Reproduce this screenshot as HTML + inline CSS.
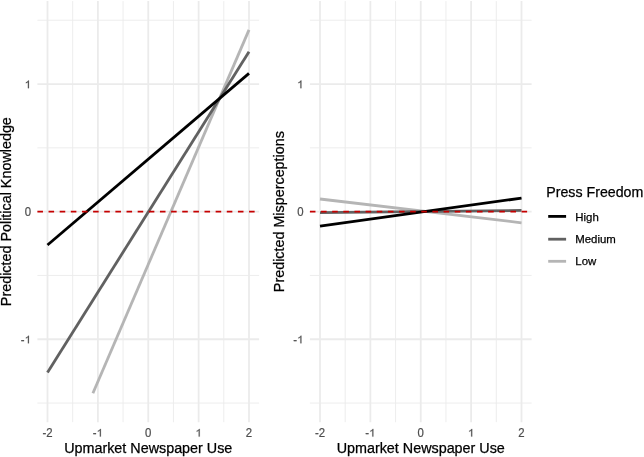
<!DOCTYPE html>
<html><head><meta charset="utf-8"><style>
html,body{margin:0;padding:0;background:#fff;}
body{width:644px;height:457px;overflow:hidden;font-family:"Liberation Sans", sans-serif;}
svg{display:block;will-change:transform;}
</style></head><body>
<svg width="644" height="457" viewBox="0 0 644 457" font-family='"Liberation Sans", sans-serif'>
<rect width="644" height="457" fill="#fff"/>
<line x1="37.4" x2="259.1" y1="20.25" y2="20.25" stroke="#EBEBEB" stroke-width="0.9"/>
<line x1="37.4" x2="259.1" y1="147.85" y2="147.85" stroke="#EBEBEB" stroke-width="0.9"/>
<line x1="37.4" x2="259.1" y1="275.45" y2="275.45" stroke="#EBEBEB" stroke-width="0.9"/>
<line x1="37.4" x2="259.1" y1="403.05" y2="403.05" stroke="#EBEBEB" stroke-width="0.9"/>
<line y1="1.1" y2="422.2" x1="72.69" x2="72.69" stroke="#EBEBEB" stroke-width="0.9"/>
<line y1="1.1" y2="422.2" x1="123.06" x2="123.06" stroke="#EBEBEB" stroke-width="0.9"/>
<line y1="1.1" y2="422.2" x1="173.44" x2="173.44" stroke="#EBEBEB" stroke-width="0.9"/>
<line y1="1.1" y2="422.2" x1="223.81" x2="223.81" stroke="#EBEBEB" stroke-width="0.9"/>
<line x1="37.4" x2="259.1" y1="84.05" y2="84.05" stroke="#EBEBEB" stroke-width="1.8"/>
<line x1="37.4" x2="259.1" y1="211.65" y2="211.65" stroke="#EBEBEB" stroke-width="1.8"/>
<line x1="37.4" x2="259.1" y1="339.25" y2="339.25" stroke="#EBEBEB" stroke-width="1.8"/>
<line y1="1.1" y2="422.2" x1="47.50" x2="47.50" stroke="#EBEBEB" stroke-width="1.8"/>
<line y1="1.1" y2="422.2" x1="97.88" x2="97.88" stroke="#EBEBEB" stroke-width="1.8"/>
<line y1="1.1" y2="422.2" x1="148.25" x2="148.25" stroke="#EBEBEB" stroke-width="1.8"/>
<line y1="1.1" y2="422.2" x1="198.62" x2="198.62" stroke="#EBEBEB" stroke-width="1.8"/>
<line y1="1.1" y2="422.2" x1="249.00" x2="249.00" stroke="#EBEBEB" stroke-width="1.8"/>
<line x1="309.9" x2="531.6" y1="20.25" y2="20.25" stroke="#EBEBEB" stroke-width="0.9"/>
<line x1="309.9" x2="531.6" y1="147.85" y2="147.85" stroke="#EBEBEB" stroke-width="0.9"/>
<line x1="309.9" x2="531.6" y1="275.45" y2="275.45" stroke="#EBEBEB" stroke-width="0.9"/>
<line x1="309.9" x2="531.6" y1="403.05" y2="403.05" stroke="#EBEBEB" stroke-width="0.9"/>
<line y1="1.1" y2="422.2" x1="345.19" x2="345.19" stroke="#EBEBEB" stroke-width="0.9"/>
<line y1="1.1" y2="422.2" x1="395.56" x2="395.56" stroke="#EBEBEB" stroke-width="0.9"/>
<line y1="1.1" y2="422.2" x1="445.94" x2="445.94" stroke="#EBEBEB" stroke-width="0.9"/>
<line y1="1.1" y2="422.2" x1="496.31" x2="496.31" stroke="#EBEBEB" stroke-width="0.9"/>
<line x1="309.9" x2="531.6" y1="84.05" y2="84.05" stroke="#EBEBEB" stroke-width="1.8"/>
<line x1="309.9" x2="531.6" y1="211.65" y2="211.65" stroke="#EBEBEB" stroke-width="1.8"/>
<line x1="309.9" x2="531.6" y1="339.25" y2="339.25" stroke="#EBEBEB" stroke-width="1.8"/>
<line y1="1.1" y2="422.2" x1="320.00" x2="320.00" stroke="#EBEBEB" stroke-width="1.8"/>
<line y1="1.1" y2="422.2" x1="370.38" x2="370.38" stroke="#EBEBEB" stroke-width="1.8"/>
<line y1="1.1" y2="422.2" x1="420.75" x2="420.75" stroke="#EBEBEB" stroke-width="1.8"/>
<line y1="1.1" y2="422.2" x1="471.12" x2="471.12" stroke="#EBEBEB" stroke-width="1.8"/>
<line y1="1.1" y2="422.2" x1="521.50" x2="521.50" stroke="#EBEBEB" stroke-width="1.8"/>
<line x1="92.89" y1="393.30" x2="249.00" y2="29.90" stroke="#B5B5B5" stroke-width="2.8" stroke-linecap="butt"/>
<line x1="47.50" y1="372.40" x2="249.00" y2="51.80" stroke="#616161" stroke-width="2.8" stroke-linecap="butt"/>
<line x1="47.50" y1="245.00" x2="249.00" y2="73.40" stroke="#000000" stroke-width="2.8" stroke-linecap="butt"/>
<line x1="320.00" y1="199.00" x2="521.50" y2="222.80" stroke="#B5B5B5" stroke-width="2.8" stroke-linecap="butt"/>
<line x1="320.00" y1="212.60" x2="521.50" y2="210.40" stroke="#616161" stroke-width="2.8" stroke-linecap="butt"/>
<line x1="320.00" y1="226.10" x2="521.50" y2="198.10" stroke="#000000" stroke-width="2.8" stroke-linecap="butt"/>
<line x1="37.4" x2="259.1" y1="211.65" y2="211.65" stroke="#C60000" stroke-width="1.7" stroke-dasharray="5.57 5.57"/>
<line x1="309.9" x2="531.6" y1="211.65" y2="211.65" stroke="#C60000" stroke-width="1.7" stroke-dasharray="5.57 5.57"/>
<path d="M763 0H583V1147Q518 1085 412.5 1023Q307 961 223 930V1104Q374 1175 487 1276Q600 1377 647 1472H763Z" fill="#4D4D4D" stroke="#4D4D4D" stroke-width="35.93" transform="translate(24.66,88.15) scale(0.005566,-0.005232)"/>
<g transform="translate(0,215.75) scale(1,1.1) translate(0,-215.75)"><text x="24.66" y="215.75" font-size="11.4" fill="#4D4D4D" stroke="#4D4D4D" stroke-width="0.2">0</text></g>
<g transform="translate(0,343.35) scale(1,1.1) translate(0,-343.35)"><text x="20.86" y="344.05" font-size="11.4" fill="#4D4D4D" stroke="#4D4D4D" stroke-width="0.2">-</text></g><path d="M763 0H583V1147Q518 1085 412.5 1023Q307 961 223 930V1104Q374 1175 487 1276Q600 1377 647 1472H763Z" fill="#4D4D4D" stroke="#4D4D4D" stroke-width="35.93" transform="translate(24.66,343.35) scale(0.005566,-0.005232)"/>
<path d="M763 0H583V1147Q518 1085 412.5 1023Q307 961 223 930V1104Q374 1175 487 1276Q600 1377 647 1472H763Z" fill="#4D4D4D" stroke="#4D4D4D" stroke-width="35.93" transform="translate(297.16,88.15) scale(0.005566,-0.005232)"/>
<g transform="translate(0,215.75) scale(1,1.1) translate(0,-215.75)"><text x="297.16" y="215.75" font-size="11.4" fill="#4D4D4D" stroke="#4D4D4D" stroke-width="0.2">0</text></g>
<g transform="translate(0,343.35) scale(1,1.1) translate(0,-343.35)"><text x="293.36" y="344.05" font-size="11.4" fill="#4D4D4D" stroke="#4D4D4D" stroke-width="0.2">-</text></g><path d="M763 0H583V1147Q518 1085 412.5 1023Q307 961 223 930V1104Q374 1175 487 1276Q600 1377 647 1472H763Z" fill="#4D4D4D" stroke="#4D4D4D" stroke-width="35.93" transform="translate(297.16,343.35) scale(0.005566,-0.005232)"/>
<g transform="translate(0,436.60) scale(1,1.1) translate(0,-436.60)"><text x="42.43" y="436.60" font-size="11.4" fill="#4D4D4D" stroke="#4D4D4D" stroke-width="0.2">-</text></g><g transform="translate(0,436.60) scale(1,1.1) translate(0,-436.60)"><text x="46.23" y="436.60" font-size="11.4" fill="#4D4D4D" stroke="#4D4D4D" stroke-width="0.2">2</text></g>
<g transform="translate(0,436.60) scale(1,1.1) translate(0,-436.60)"><text x="92.81" y="436.60" font-size="11.4" fill="#4D4D4D" stroke="#4D4D4D" stroke-width="0.2">-</text></g><path d="M763 0H583V1147Q518 1085 412.5 1023Q307 961 223 930V1104Q374 1175 487 1276Q600 1377 647 1472H763Z" fill="#4D4D4D" stroke="#4D4D4D" stroke-width="35.93" transform="translate(96.60,436.60) scale(0.005566,-0.005232)"/>
<g transform="translate(0,436.60) scale(1,1.1) translate(0,-436.60)"><text x="145.08" y="436.60" font-size="11.4" fill="#4D4D4D" stroke="#4D4D4D" stroke-width="0.2">0</text></g>
<path d="M763 0H583V1147Q518 1085 412.5 1023Q307 961 223 930V1104Q374 1175 487 1276Q600 1377 647 1472H763Z" fill="#4D4D4D" stroke="#4D4D4D" stroke-width="35.93" transform="translate(195.45,436.60) scale(0.005566,-0.005232)"/>
<g transform="translate(0,436.60) scale(1,1.1) translate(0,-436.60)"><text x="245.83" y="436.60" font-size="11.4" fill="#4D4D4D" stroke="#4D4D4D" stroke-width="0.2">2</text></g>
<g transform="translate(0,436.60) scale(1,1.1) translate(0,-436.60)"><text x="314.93" y="436.60" font-size="11.4" fill="#4D4D4D" stroke="#4D4D4D" stroke-width="0.2">-</text></g><g transform="translate(0,436.60) scale(1,1.1) translate(0,-436.60)"><text x="318.73" y="436.60" font-size="11.4" fill="#4D4D4D" stroke="#4D4D4D" stroke-width="0.2">2</text></g>
<g transform="translate(0,436.60) scale(1,1.1) translate(0,-436.60)"><text x="365.31" y="436.60" font-size="11.4" fill="#4D4D4D" stroke="#4D4D4D" stroke-width="0.2">-</text></g><path d="M763 0H583V1147Q518 1085 412.5 1023Q307 961 223 930V1104Q374 1175 487 1276Q600 1377 647 1472H763Z" fill="#4D4D4D" stroke="#4D4D4D" stroke-width="35.93" transform="translate(369.10,436.60) scale(0.005566,-0.005232)"/>
<g transform="translate(0,436.60) scale(1,1.1) translate(0,-436.60)"><text x="417.58" y="436.60" font-size="11.4" fill="#4D4D4D" stroke="#4D4D4D" stroke-width="0.2">0</text></g>
<path d="M763 0H583V1147Q518 1085 412.5 1023Q307 961 223 930V1104Q374 1175 487 1276Q600 1377 647 1472H763Z" fill="#4D4D4D" stroke="#4D4D4D" stroke-width="35.93" transform="translate(467.95,436.60) scale(0.005566,-0.005232)"/>
<g transform="translate(0,436.60) scale(1,1.1) translate(0,-436.60)"><text x="518.33" y="436.60" font-size="11.4" fill="#4D4D4D" stroke="#4D4D4D" stroke-width="0.2">2</text></g>
<text x="148.25" y="453.4" text-anchor="middle" font-size="14.35" fill="#000" stroke="#000" stroke-width="0.25">Upmarket Newspaper Use</text>
<text x="420.75" y="453.4" text-anchor="middle" font-size="14.35" fill="#000" stroke="#000" stroke-width="0.25">Upmarket Newspaper Use</text>
<text transform="translate(11,211.65) rotate(-90)" text-anchor="middle" font-size="14.35" fill="#000" stroke="#000" stroke-width="0.25">Predicted Political Knowledge</text>
<text transform="translate(283.6,211.65) rotate(-90)" text-anchor="middle" font-size="14.35" fill="#000" stroke="#000" stroke-width="0.25">Predicted Misperceptions</text>
<text x="546.3" y="196.6" font-size="14.2" fill="#000" stroke="#000" stroke-width="0.25">Press Freedom</text>
<line x1="548.2" x2="566.1" y1="216.4" y2="216.4" stroke="#000000" stroke-width="2.8"/>
<text x="575.3" y="220.5" font-size="11.4" fill="#000" stroke="#000" stroke-width="0.25">High</text>
<line x1="548.2" x2="566.1" y1="239.2" y2="239.2" stroke="#616161" stroke-width="2.8"/>
<text x="575.3" y="243.3" font-size="11.4" fill="#000" stroke="#000" stroke-width="0.25">Medium</text>
<line x1="548.2" x2="566.1" y1="261.3" y2="261.3" stroke="#B5B5B5" stroke-width="2.8"/>
<text x="575.3" y="265.4" font-size="11.4" fill="#000" stroke="#000" stroke-width="0.25">Low</text>
</svg>
</body></html>
